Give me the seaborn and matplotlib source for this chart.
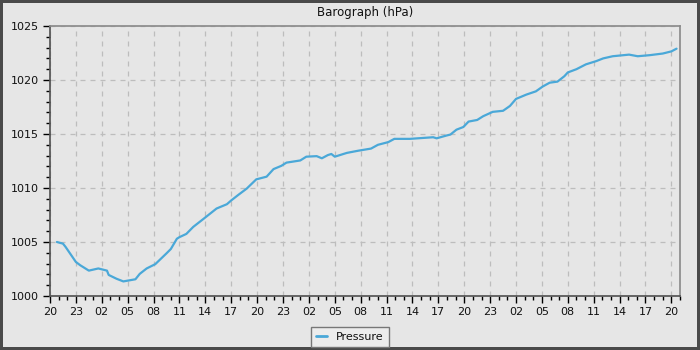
import numpy as np
import pandas as pd
import seaborn as sns
import matplotlib.pyplot as plt
from matplotlib.ticker import MultipleLocator, FuncFormatter

# hours since 20:00 on day one, pressure
hours = [0.8, 1.5, 1.8, 3.0, 3.5, 4.5, 5.6, 6.6, 6.8, 7.7, 8.5, 9.9, 10.4, 11.2, 12.2,
         13.5, 14.0, 14.7, 15.0, 15.8, 16.6, 17.8, 19.3, 20.5, 21.0, 21.8, 22.8, 23.9,
         25.1, 25.9, 26.8, 27.4, 29.0, 29.7, 30.9, 31.5, 32.2, 32.6, 33.0, 34.4, 35.7,
         37.2, 38.0, 39.2, 39.9, 41.7, 44.4, 44.8, 45.9, 46.4, 47.1, 47.9, 48.5, 49.5,
         50.2, 51.3, 52.5, 53.3, 54.0, 55.2, 56.3, 57.1, 57.9, 58.8, 59.6, 60.0, 61.0,
         62.1, 63.3, 64.1, 65.2, 67.1, 68.1, 69.5, 71.0, 72.0, 72.6]
pressure = [1005.0, 1004.85, 1004.55, 1003.15, 1002.85, 1002.35, 1002.55, 1002.35, 1001.95,
            1001.6, 1001.35, 1001.55, 1002.05, 1002.55, 1002.95, 1003.95, 1004.35, 1005.3,
            1005.45, 1005.75, 1006.4, 1007.15, 1008.1, 1008.5, 1008.85, 1009.35, 1009.95,
            1010.8, 1011.05, 1011.75, 1012.05, 1012.35, 1012.55, 1012.9, 1012.95, 1012.75,
            1013.05, 1013.15, 1012.9, 1013.25, 1013.45, 1013.65, 1014.0, 1014.25, 1014.55,
            1014.55, 1014.7, 1014.6, 1014.85, 1014.95, 1015.4, 1015.65, 1016.15, 1016.3,
            1016.65, 1017.05, 1017.15, 1017.6, 1018.25, 1018.65, 1018.95, 1019.4, 1019.75,
            1019.85, 1020.35, 1020.7, 1021.0, 1021.45, 1021.75, 1022.0, 1022.2, 1022.35,
            1022.2, 1022.3, 1022.45, 1022.65, 1022.9]

df = pd.DataFrame({'hour': hours, 'Pressure': pressure})

sns.set_theme(style='white', rc={'axes.facecolor': '#e6e6e6', 'figure.facecolor': '#e6e6e6'})
plt.rcParams['font.family'] = ['DejaVu Sans']

fig = plt.figure(figsize=(7, 3.5), dpi=100)
fig.patch.set_edgecolor('#4a4a4a')
fig.patch.set_linewidth(3)
ax = fig.add_axes([50 / 700, 54 / 350, 630 / 700, 270 / 350])

sns.lineplot(data=df, x='hour', y='Pressure', ax=ax, color='#4aa8d8',
             linewidth=1.6, label='Pressure')

ax.set_xlim(0, 73)
ax.set_ylim(1000, 1025)
ax.xaxis.set_major_locator(MultipleLocator(3))
ax.xaxis.set_minor_locator(MultipleLocator(1))
ax.yaxis.set_major_locator(MultipleLocator(5))
ax.yaxis.set_minor_locator(MultipleLocator(1))
ax.xaxis.set_major_formatter(FuncFormatter(lambda v, p: '%02d' % ((20 + int(round(v))) % 24)))
ax.tick_params(axis='both', which='major', length=5, width=1, color='black',
               labelsize=8, labelcolor='#111111', direction='out', bottom=True, left=True, pad=3)
ax.tick_params(axis='both', which='minor', length=3, width=1, color='black',
               direction='out', bottom=True, left=True)
ax.grid(True, which='major', linestyle=(0, (4, 4)), color='#bdbdbd', linewidth=0.9)
ax.set_xlabel('')
ax.set_ylabel('')
ax.set_title('Barograph (hPa)', fontsize=8.5, pad=7, color='#111111')

for side in ['top', 'right']:
    ax.spines[side].set_color('#8c8c8c')
for side in ['left', 'bottom']:
    ax.spines[side].set_color('#555555')

leg = ax.legend(loc='center', bbox_to_anchor=(350 / 700, 13 / 350),
                bbox_transform=fig.transFigure, fontsize=8, frameon=True,
                fancybox=False, handlelength=1.0, borderpad=0.45, labelcolor='#111111')
leg.get_frame().set_edgecolor('#777777')
leg.get_frame().set_facecolor('#ececec')
leg.get_frame().set_alpha(1)
for line in leg.get_lines():
    line.set_linewidth(2)

fig.savefig('out.png', dpi=100, facecolor=fig.get_facecolor(), edgecolor=fig.get_edgecolor())
